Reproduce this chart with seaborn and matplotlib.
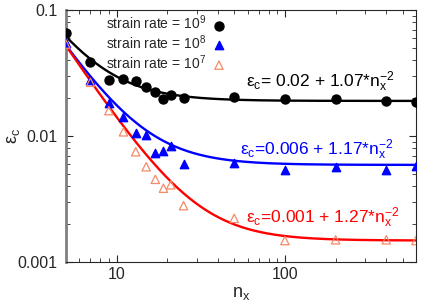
import numpy as np
import pandas as pd
from matplotlib import pyplot as plt
import seaborn as sns

sns.set_style('ticks')
plt.rcParams['font.family'] = ['Liberation Sans', 'DejaVu Sans']
plt.rcParams['mathtext.fontset'] = 'custom'
plt.rcParams['mathtext.rm'] = 'Liberation Sans'
plt.rcParams['mathtext.it'] = 'Liberation Sans:italic'

# data
n_x = [5, 7, 9, 11, 13, 15, 17, 19, 21, 25, 50, 100, 200, 400, 600]
eps_1e9 = [0.066, 0.0389, 0.0278, 0.0282, 0.0275, 0.0246, 0.0222, 0.0196, 0.0211, 0.0199,
           0.0204, 0.0198, 0.0195, 0.019, 0.0187]
eps_1e8 = [0.055, 0.0278, 0.0182, 0.0141, 0.0105, 0.0102, 0.0073, 0.0076, 0.0084, 0.006,
           0.00615, 0.0054, 0.0057, 0.0054, 0.0058]
eps_1e7 = [0.0537, 0.0267, 0.0159, 0.0108, 0.0075, 0.0057, 0.00453, 0.00385, 0.0041, 0.0028,
           0.00222, 0.00148, 0.0015, 0.0015, 0.00148]

# fit eps_c = a + b * n_x^-2
fit_a = [0.019, 0.0059, 0.00148]
fit_b = [1.07, 1.17, 1.27]
fit_labels = [r'ε$_\mathregular{c}$= 0.02 + 1.07*n$_\mathregular{x}^{\mathregular{-2}}$',
              r'ε$_\mathregular{c}$=0.006 + 1.17*n$_\mathregular{x}^{\mathregular{-2}}$',
              r'ε$_\mathregular{c}$=0.001 + 1.27*n$_\mathregular{x}^{\mathregular{-2}}$']
label_pos = [(59, 0.0268), (54, 0.00774), (59, 0.00223)]

rates = ['strain rate = $\\mathregular{10^9}$', 'strain rate = $\\mathregular{10^8}$',
         'strain rate = $\\mathregular{10^7}$']
line_colors = ['black', 'blue', 'red']

n_fit = np.geomspace(5, 600, 300)
fit = pd.DataFrame({'n': np.tile(n_fit, 3),
                    'eps': np.concatenate([a + b / n_fit**2 for a, b in zip(fit_a, fit_b)]),
                    'fit': np.repeat(['f9', 'f8', 'f7'], len(n_fit))})

fig, ax = plt.subplots(figsize=(4.36, 3.05), dpi=100)
fig.subplots_adjust(left=0.151, right=0.954, bottom=0.141, top=0.967)

sns.lineplot(data=fit, x='n', y='eps', hue='fit', palette=line_colors, lw=1.7,
             legend=False, ax=ax)

h1 = ax.scatter(n_x, eps_1e9, s=42, marker='o', color='black', zorder=3, label=rates[0])
h2 = ax.scatter(n_x, eps_1e8, s=36, marker='^', color='blue', zorder=3, label=rates[1])
h3 = ax.scatter(n_x, eps_1e7, s=36, marker='^', facecolor='none', edgecolor='#f58a66',
                lw=0.9, zorder=3, label=rates[2])

for (x, y), txt, c in zip(label_pos, fit_labels, line_colors):
    ax.text(x, y, txt, color=c, fontsize=12.5, va='center', ha='left')

ax.set_xscale('log')
ax.set_yscale('log')
ax.set_xlim(5, 600)
ax.set_ylim(0.001, 0.1)
ax.set_xticks([10, 100], ['10', '100'])
ax.set_yticks([0.001, 0.01, 0.1], ['0.001', '0.01', '0.1'])
ax.tick_params(which='both', direction='in', top=True, right=True, labelsize=11.5)
ax.tick_params(axis='y', pad=6)
ax.tick_params(which='major', length=5)
ax.tick_params(which='minor', length=3)
ax.set_xlabel(r'n$_\mathregular{x}$', fontsize=13, labelpad=2)
ax.set_ylabel(r'ε$_\mathregular{c}$', fontsize=13)
ax.yaxis.set_label_coords(-0.125, 0.5)
ax.spines['left'].set_color('gray')
ax.spines['left'].set_linewidth(2)

ax.legend(handles=[h1, h2, h3], loc='upper left', bbox_to_anchor=(0.08, 1.035),
          frameon=False, markerfirst=False, fontsize=10, handletextpad=0.4,
          labelspacing=0.08, handlelength=1.0)

plt.savefig('out.png', dpi=100)
